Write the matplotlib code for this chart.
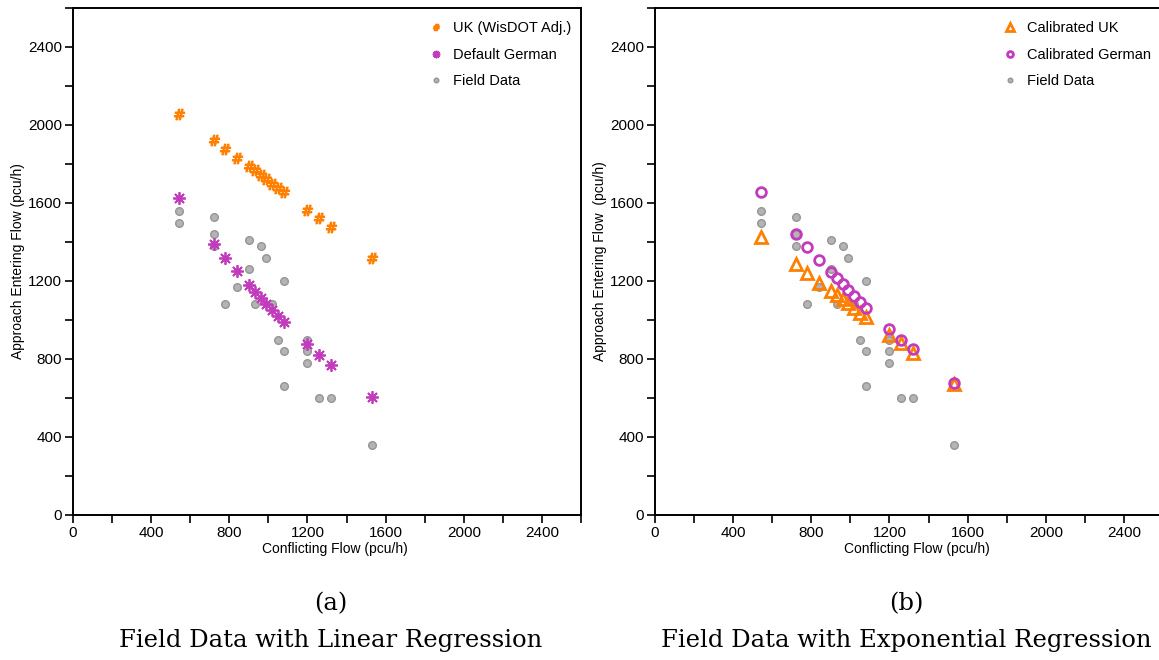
import numpy as np
import matplotlib.pyplot as plt
from matplotlib.ticker import MultipleLocator

# conflicting flow for the model curves (pcu/h)
qc_model = [540, 720, 780, 840, 900, 930, 960, 990, 1020, 1050, 1080, 1200, 1260, 1320, 1530]

# (a) linear regression models
uk_wisdot = [2055, 1921, 1875, 1831, 1788, 1767, 1743, 1723, 1700, 1678, 1656, 1566, 1522, 1477, 1319]
german_default = [1626, 1390, 1319, 1249, 1180, 1146, 1113, 1082, 1050, 1019, 990, 875, 822, 768, 604]

# (b) exponential regression models
uk_calibrated = [1424, 1287, 1240, 1192, 1149, 1129, 1107, 1086, 1064, 1038, 1015, 925, 880, 832, 672]
german_calibrated = [1656, 1443, 1374, 1309, 1244, 1213, 1184, 1153, 1124, 1093, 1062, 952, 897, 849, 675]

# field observations
field_qc = [540, 540, 720, 720, 720, 780, 840, 900, 900, 930, 960, 990, 1020,
            1050, 1080, 1080, 1080, 1200, 1200, 1200, 1260, 1320, 1530]
field_qe = [1560, 1500, 1530, 1440, 1380, 1080, 1170, 1410, 1260, 1080, 1380, 1320, 1080,
            900, 1200, 840, 660, 900, 840, 780, 600, 600, 360]

orange = '#ff7f00'
magenta = '#c23bbd'

plt.rcParams['font.family'] = 'Liberation Sans'

fig = plt.figure(figsize=(11.59, 6.6), dpi=100)
ax1 = fig.add_axes([73 / 1159, 145 / 660, 508 / 1159, 507 / 660])
ax2 = fig.add_axes([655 / 1159, 145 / 660, 508 / 1159, 507 / 660])


def style_axes(ax, ylabel):
    ax.set_xlim(0, 2600)
    ax.set_ylim(0, 2600)
    ax.xaxis.set_major_locator(MultipleLocator(400))
    ax.xaxis.set_minor_locator(MultipleLocator(200))
    ax.yaxis.set_major_locator(MultipleLocator(400))
    ax.yaxis.set_minor_locator(MultipleLocator(200))
    ax.tick_params(which='both', direction='out', length=6, width=1.2, labelsize=11, pad=2)
    for s in ax.spines.values():
        s.set_linewidth(1.4)
    ax.set_xlabel('Conflicting Flow (pcu/h)', fontsize=10)
    ax.xaxis.set_label_coords(0.515, -0.053)
    ax.set_ylabel(ylabel, fontsize=10, labelpad=2)


def plot_field(ax):
    ax.plot(field_qc, field_qe, 'o', color='#b4b4b4', markeredgecolor='#959595',
            markersize=5.5, markeredgewidth=1, label='Field Data', zorder=2)


leg_kw = dict(loc='upper left', frameon=False, fontsize=10.5, handlelength=1.0,
              handletextpad=0.7, labelspacing=0.85, markerscale=0.6, borderaxespad=0.3)

# (a)
ax1.plot(qc_model, uk_wisdot, linestyle='none', marker='$\\#$', color=orange,
         markersize=7.5, label='UK (WisDOT Adj.)', zorder=3)
ax1.plot(qc_model, german_default, linestyle='none', marker=(8, 2, 0), color=magenta,
         markersize=9, markeredgewidth=1.3, label='Default German', zorder=3)
plot_field(ax1)
style_axes(ax1, 'Approach Entering Flow (pcu/h)')
ax1.legend(bbox_to_anchor=(0.68, 0.994), **leg_kw)

# (b)
ax2.plot(qc_model, uk_calibrated, linestyle='none', marker='^', markerfacecolor='none',
         markeredgecolor=orange, markeredgewidth=2, markersize=8.5, label='Calibrated UK', zorder=3)
ax2.plot(qc_model, german_calibrated, linestyle='none', marker='o', markerfacecolor='none',
         markeredgecolor=magenta, markeredgewidth=2, markersize=7, label='Calibrated German', zorder=3)
plot_field(ax2)
style_axes(ax2, 'Approach Entering Flow  (pcu/h)')
ax2.legend(bbox_to_anchor=(0.664, 0.994), **leg_kw)

# captions
cap = dict(ha='center', va='center', fontsize=17.5, family='DejaVu Serif')
fig.text(331 / 1159, 1 - 604 / 660, '(a)', **cap)
fig.text(331 / 1159, 1 - 640 / 660, 'Field Data with Linear Regression', **cap)
fig.text(906 / 1159, 1 - 604 / 660, '(b)', **cap)
fig.text(906 / 1159, 1 - 640 / 660, 'Field Data with Exponential Regression', **cap)

fig.savefig('out.png', dpi=100)
